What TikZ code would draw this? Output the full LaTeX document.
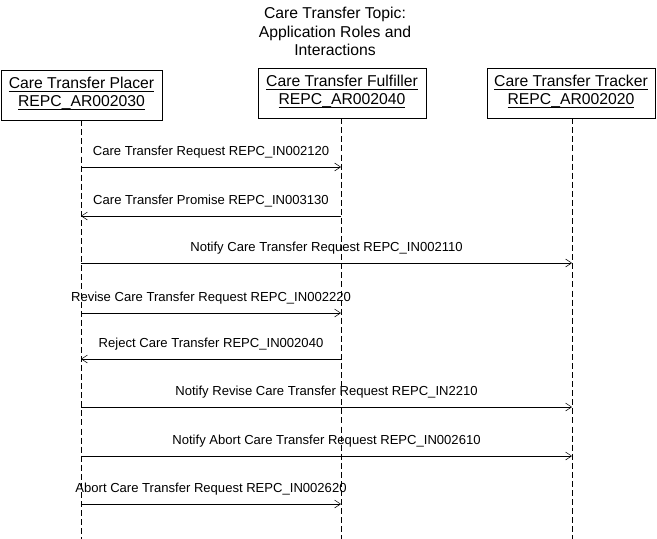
\documentclass[tikz,border=0pt]{standalone}
\usepackage{fontspec}
\setmainfont{Liberation Sans}
\usetikzlibrary{arrows.meta,positioning}
\newcommand{\ulname}[1]{\underline{\smash{#1}\vphantom{a}}}
\tikzset{
  title/.style = {align=center, font=\fontsize{11.8}{13.9}\selectfont},
  role/.style  = {draw, thin, align=center, minimum height=37.5pt,
                  inner sep=0pt, font=\fontsize{11.8}{13.6}\selectfont},
  life/.style  = {thin, dash pattern=on 4.5pt off 2.3pt},
  msg/.style   = {thin, -{Straight Barb[length=4.5pt,width=6pt]}},
  lbl/.style   = {above=3.3pt, font=\fontsize{9.8}{11}\selectfont}
}

\begin{document}
\begin{tikzpicture}[x=0.75pt, y=-0.75pt]
\useasboundingbox (0,0) rectangle (657,539);

% title
\node[title] (topic) at (335,31.5) {Care Transfer Topic:\\Application Roles and\\Interactions};

% application roles
\node[role, minimum width=120.75pt] (placer)    at (81.5,95) {\ulname{Care Transfer Placer}\\\ulname{REPC\_AR002030}};
\node[role, minimum width=126pt]    (fulfiller) at (342,93)  {\ulname{Care Transfer Fulfiller}\\\ulname{REPC\_AR002040}};
\node[role, minimum width=126pt]    (tracker)   at (571,93)  {\ulname{Care Transfer Tracker}\\\ulname{REPC\_AR002020}};

% lifelines
\coordinate (l1) at (81,539);
\coordinate (l2) at (341,539);
\coordinate (l3) at (572,539);
\draw[life] (placer.south -| l1) -- (l1);
\draw[life] (fulfiller.south -| l2) -- (l2);
\draw[life] (tracker.south -| l3) -- (l3);

% interactions
\draw[msg] (l1 |- 0,167) -- node[lbl] {Care Transfer Request REPC\_IN002120} (l2 |- 0,167);
\draw[msg] (l2 |- 0,216) -- node[lbl] {Care Transfer Promise REPC\_IN003130} (l1 |- 0,216);
\draw[msg] (l1 |- 0,263) -- node[lbl] {Notify Care Transfer Request REPC\_IN002110} (l3 |- 0,263);
\draw[msg] (l1 |- 0,313) -- node[lbl] {Revise Care Transfer Request REPC\_IN002220} (l2 |- 0,313);
\draw[msg] (l2 |- 0,359) -- node[lbl] {Reject Care Transfer REPC\_IN002040} (l1 |- 0,359);
\draw[msg] (l1 |- 0,407) -- node[lbl] {Notify Revise Care Transfer Request REPC\_IN2210} (l3 |- 0,407);
\draw[msg] (l1 |- 0,456) -- node[lbl] {Notify Abort Care Transfer Request REPC\_IN002610} (l3 |- 0,456);
\draw[msg] (l1 |- 0,504) -- node[lbl] {Abort Care Transfer Request REPC\_IN002620} (l2 |- 0,504);
\end{tikzpicture}
\end{document}
